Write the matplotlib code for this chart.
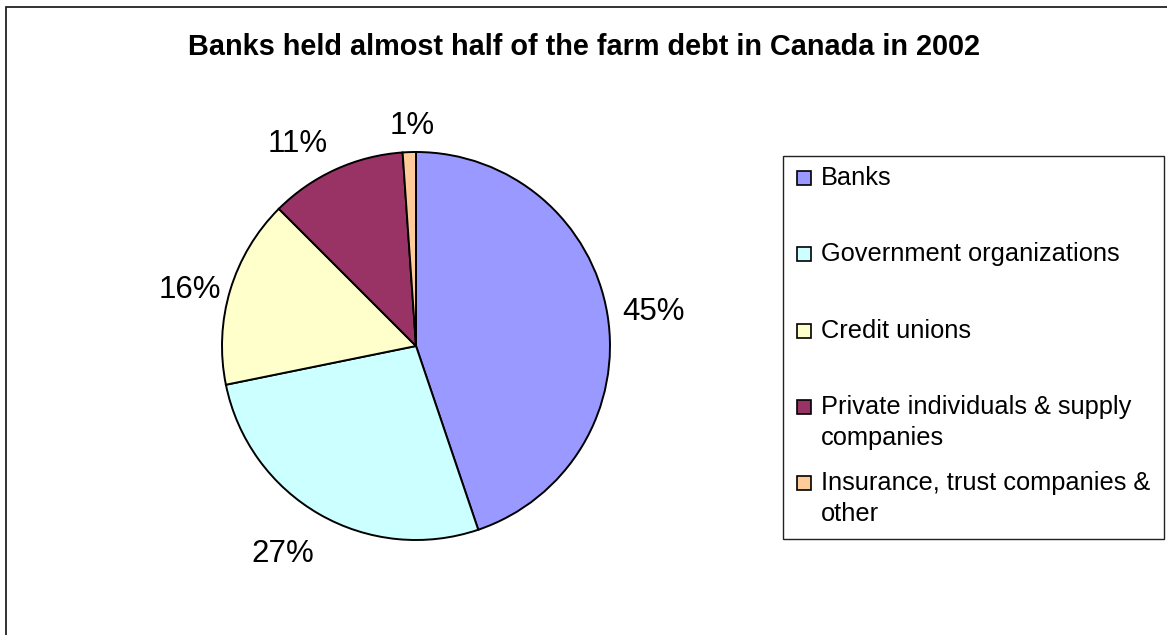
import matplotlib
matplotlib.use('Agg')
import matplotlib.pyplot as plt
import numpy as np
from matplotlib.patches import Rectangle

plt.rcParams['font.family'] = ['Liberation Sans', 'DejaVu Sans']

title = 'Banks held almost half of the farm debt in Canada in 2002'
lenders = ['Banks',
           'Government organizations',
           'Credit unions',
           'Private individuals & supply\ncompanies',
           'Insurance, trust companies &\nother']
# share of farm debt (%)
shares = [44.8, 27.0, 15.7, 11.4, 1.1]
colors = ['#9999FF', '#CCFFFF', '#FFFFCC', '#993366', '#FFCC99']

# where excel put the % labels: radius (in pie radii) and angle nudge (deg)
label_dist = [1.24, 1.255, 1.205, 1.225, 1.15]
label_nudge = [-0.5, -3.2, 1.9, 5.5, -1.0]

W, H = 1167, 635


# pixel coords (from top left) -> figure fractions
def fx(x):
    return x / W


def fy(y):
    return 1 - y / H


fig = plt.figure(figsize=(W / 100, H / 100), dpi=100)

# outer chart frame, runs off the right and bottom edge
fig.patches.append(Rectangle((fx(6), fy(H + 20)), 1.2, fy(7) - fy(H + 20),
                             transform=fig.transFigure, fill=False,
                             edgecolor='#222222', lw=1.3))

fig.text(0.5, fy(55), title, ha='center', va='baseline',
         fontsize=20.8, fontweight='bold')

# pie
cx, cy, r = 416, 346, 194
ax = fig.add_axes([fx(cx - r), fy(cy + r), 2 * r / W, 2 * r / H])
wedges, _, pcts = ax.pie(shares, colors=colors, startangle=90, counterclock=False,
                         autopct='%.0f%%', pctdistance=1.22,
                         wedgeprops=dict(edgecolor='black', linewidth=1.4),
                         textprops=dict(fontsize=22.5))
ax.set_xlim(-1, 1)
ax.set_ylim(-1, 1)

for w, t, d, nudge in zip(wedges, pcts, label_dist, label_nudge):
    ang = np.deg2rad((w.theta1 + w.theta2) / 2 + nudge)
    t.set_position((d * np.cos(ang), d * np.sin(ang)))
    t.set_va('center_baseline')

# legend box
fig.patches.append(Rectangle((fx(783), fy(539)), (1164 - 783) / W, (539 - 156) / H,
                             transform=fig.transFigure, fill=False,
                             edgecolor='#222222', lw=1))

for i, (name, c) in enumerate(zip(lenders, colors)):
    base = 185 + 76.3 * i
    fig.patches.append(Rectangle((fx(797), fy(base)), 14 / W, 14 / H,
                                 transform=fig.transFigure, facecolor=c,
                                 edgecolor='black', lw=1.2))
    for j, line in enumerate(name.split('\n')):
        fig.text(fx(821), fy(base + 31 * j), line, fontsize=18.3, va='baseline')

fig.savefig('out.png', dpi=100)
